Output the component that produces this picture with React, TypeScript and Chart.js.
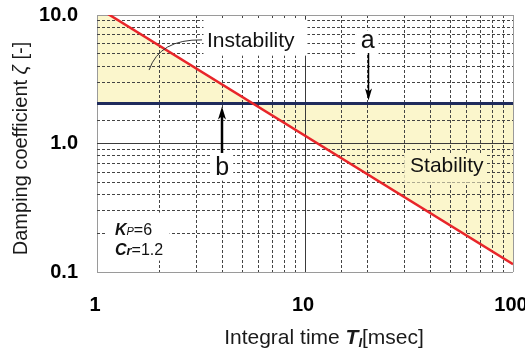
import React, { useEffect, useRef } from "react";
import { Chart, registerables } from "chart.js";

Chart.register(...registerables);

// ---- data ----
const integralTimes = [1, 100]; // T_I [msec]
const stabilityBoundary = [11.5, 0.115]; // red boundary ζ
const dampingLevel = [2.05, 2.05]; // blue level ζ
const xTickLabels = ["1", "10", "100"];
const yTickLabels = ["0.1", "1.0", "10.0"];
const xRange = [1, 100];
const yRange = [0.1, 10];

const FONT = "'Liberation Sans', Arial, sans-serif";

const isDecade = (v: number) => {
  const l = Math.log10(v);
  return Math.abs(l - Math.round(l)) < 1e-6;
};
const decadeIndex = (v: number, min: number) =>
  Math.round(Math.log10(v) - Math.log10(min));

type Run = { t: string; f: string; dy?: number };
function drawRuns(ctx: CanvasRenderingContext2D, runs: Run[], x: number, y: number, align: "left" | "center") {
  let w = 0;
  for (const r of runs) {
    ctx.font = r.f;
    w += ctx.measureText(r.t).width;
  }
  let cx = align === "center" ? x - w / 2 : x;
  ctx.textAlign = "left";
  ctx.textBaseline = "alphabetic";
  for (const r of runs) {
    ctx.font = r.f;
    ctx.fillText(r.t, cx, y + (r.dy || 0));
    cx += ctx.measureText(r.t).width;
  }
  return w;
}

function arrow(ctx: CanvasRenderingContext2D, x: number, y0: number, y1: number, lw: number, hl: number, hw: number) {
  const dir = y1 > y0 ? 1 : -1;
  ctx.strokeStyle = "#000";
  ctx.fillStyle = "#000";
  ctx.lineWidth = lw;
  ctx.beginPath();
  ctx.moveTo(x, y0);
  ctx.lineTo(x, y1 - dir * hl * 0.6);
  ctx.stroke();
  ctx.beginPath();
  ctx.moveTo(x, y1);
  ctx.lineTo(x - hw / 2, y1 - dir * hl);
  ctx.lineTo(x, y1 - dir * hl * 0.75);
  ctx.lineTo(x + hw / 2, y1 - dir * hl);
  ctx.closePath();
  ctx.fill();
}

const annotationPlugin = {
  id: "annotations",
  beforeDatasetsDraw(chart: any) {
    const { ctx, chartArea } = chart;
    const xs = chart.scales.x;
    const ys = chart.scales.y;
    const px = (v: number) => xs.getPixelForValue(v);
    const py = (v: number) => ys.getPixelForValue(v);
    ctx.save();
    ctx.beginPath();
    ctx.rect(chartArea.left + 1, chartArea.top + 1, chartArea.width - 2, chartArea.height - 2);
    ctx.clip();
    ctx.fillStyle = "#ffffff";
    ctx.fillRect(px(3.25), py(9.2), 104, 36);
    ctx.fillRect(px(20) - 11, py(7.6), 22, 24);
    ctx.fillRect(px(4) - 11, py(0.88), 22, 30);
    ctx.fillRect(px(1.1), py(0.29), 64, 48);
    ctx.fillStyle = "#fbf6cc";
    ctx.fillRect(px(30), py(0.82), 82, 28);
    ctx.restore();
  },
  afterDraw(chart: any) {
    const { ctx, chartArea } = chart;
    const xs = chart.scales.x;
    const ys = chart.scales.y;
    const px = (v: number) => xs.getPixelForValue(v);
    const py = (v: number) => ys.getPixelForValue(v);
    ctx.save();
    ctx.fillStyle = "#111";
    drawRuns(ctx, [{ t: "Instability", f: `21px ${FONT}` }], px(3.38), py(5.6), "left");
    ctx.strokeStyle = "#333";
    ctx.lineWidth = 1;
    ctx.beginPath();
    ctx.moveTo(px(3.2), py(6.4));
    ctx.quadraticCurveTo(px(2.0), py(6.5), px(1.78), py(3.73));
    ctx.stroke();
    ctx.fillStyle = "#111";
    drawRuns(ctx, [{ t: "Stability", f: `21px ${FONT}` }], px(32), py(0.6), "left");
    drawRuns(ctx, [{ t: "a", f: `25px ${FONT}` }], px(20), py(5.53), "center");
    arrow(ctx, Math.round(px(20)) + 0.5, py(5.06), py(dampingLevel[0]) - 3, 1.5, 12, 7);
    ctx.fillStyle = "#111";
    drawRuns(ctx, [{ t: "b", f: `25px ${FONT}` }], px(4), py(0.569), "center");
    arrow(ctx, Math.round(px(4)), py(0.844), py(dampingLevel[0]) + 3, 2.5, 13, 8);
    ctx.fillStyle = "#111";
    drawRuns(
      ctx,
      [
        { t: "K", f: `italic bold 16px ${FONT}` },
        { t: "P", f: `italic 11px ${FONT}`, dy: 0 },
        { t: "=6", f: `16px ${FONT}` },
      ],
      px(1.22),
      py(0.194),
      "left"
    );
    drawRuns(
      ctx,
      [
        { t: "C", f: `italic bold 16px ${FONT}` },
        { t: "r", f: `italic bold 13px ${FONT}`, dy: 0 },
        { t: "=1.2", f: `16px ${FONT}` },
      ],
      px(1.22),
      py(0.136),
      "left"
    );
    ctx.fillStyle = "#1a1a1a";
    drawRuns(
      ctx,
      [
        { t: "Integral time ", f: `21px ${FONT}` },
        { t: "T", f: `italic bold 21px ${FONT}` },
        { t: "I", f: `italic bold 13px ${FONT}`, dy: 3 },
        { t: "[msec]", f: `21px ${FONT}` },
      ],
      324,
      344,
      "center"
    );
    ctx.save();
    ctx.translate(27, (chartArea.top + chartArea.bottom) / 2 + 5);
    ctx.rotate(-Math.PI / 2);
    drawRuns(
      ctx,
      [
        { t: "Damping coefficient ", f: `20px ${FONT}` },
        { t: "ζ", f: `italic 20px ${FONT}` },
        { t: " [-]", f: `20px ${FONT}` },
      ],
      0,
      0,
      "center"
    );
    ctx.restore();
    ctx.restore();
  },
};

function gridColor(min: number, max: number) {
  return (c: any) => {
    const v = c.tick ? c.tick.value : 0;
    if (Math.abs(v - min) < 1e-9 || Math.abs(v - max) < 1e-9) return "#9a9a9a";
    if (isDecade(v)) return "#3a3a3a";
    return "#444";
  };
}
const gridDash = (c: any) => (c.tick && !isDecade(c.tick.value) ? [3, 2] : []);

export default function App() {
  const ref = useRef<HTMLCanvasElement | null>(null);
  useEffect(() => {
    if (!ref.current) return;
    const chart = new Chart(ref.current, {
      type: "line",
      data: {
        datasets: [
          {
            label: "boundary",
            data: integralTimes.map((t, i) => ({ x: t, y: stabilityBoundary[i] })),
            borderColor: "#e8252a",
            borderWidth: 2.5,
            pointRadius: 0,
            fill: { target: 1 },
            backgroundColor: "#fbf6cc",
            tension: 0,
          },
          {
            label: "damping",
            data: integralTimes.map((t, i) => ({ x: t, y: dampingLevel[i] })),
            borderColor: "#1f2b5c",
            borderWidth: 3,
            pointRadius: 0,
            fill: false,
            tension: 0,
          },
        ],
      },
      options: {
        responsive: false,
        animation: false,
        devicePixelRatio: 1,
        layout: { padding: { top: 15, right: 12, left: 0, bottom: 0 } },
        plugins: {
          legend: { display: false },
          tooltip: { enabled: false },
          filler: { drawTime: "beforeDraw" },
        },
        scales: {
          x: {
            type: "logarithmic",
            min: xRange[0],
            max: xRange[1],
            grid: { color: gridColor(xRange[0], xRange[1]), lineWidth: 1, drawTicks: false },
            border: { display: false, dash: gridDash },
            ticks: {
              autoSkip: false,
              maxRotation: 0,
              padding: 21,
              labelOffset: -2,
              color: "#000",
              font: { family: FONT, size: 20, weight: "bold" },
              callback: (v: any) => (isDecade(Number(v)) ? xTickLabels[decadeIndex(Number(v), xRange[0])] ?? "" : ""),
            },
            afterFit: (s: any) => {
              s.height = 79;
              s.paddingLeft = 0;
              s.paddingRight = 0;
            },
          },
          y: {
            type: "logarithmic",
            min: yRange[0],
            max: yRange[1],
            grid: { color: gridColor(yRange[0], yRange[1]), lineWidth: 1, drawTicks: false },
            border: { display: false, dash: gridDash },
            ticks: {
              autoSkip: false,
              padding: 19,
              color: "#000",
              font: { family: FONT, size: 20, weight: "bold" },
              callback: (v: any) => (isDecade(Number(v)) ? yTickLabels[decadeIndex(Number(v), yRange[0])] ?? "" : ""),
            },
            afterFit: (s: any) => {
              s.width = 97;
              s.paddingTop = 0;
              s.paddingBottom = 0;
            },
          },
        },
      } as any,
      plugins: [annotationPlugin],
    });
    return () => chart.destroy();
  }, []);
  return (
    <div style={{ position: "fixed", left: 0, top: 0, width: 525, height: 351, background: "#fff" }}>
      <canvas ref={ref} width={525} height={351} />
    </div>
  );
}
